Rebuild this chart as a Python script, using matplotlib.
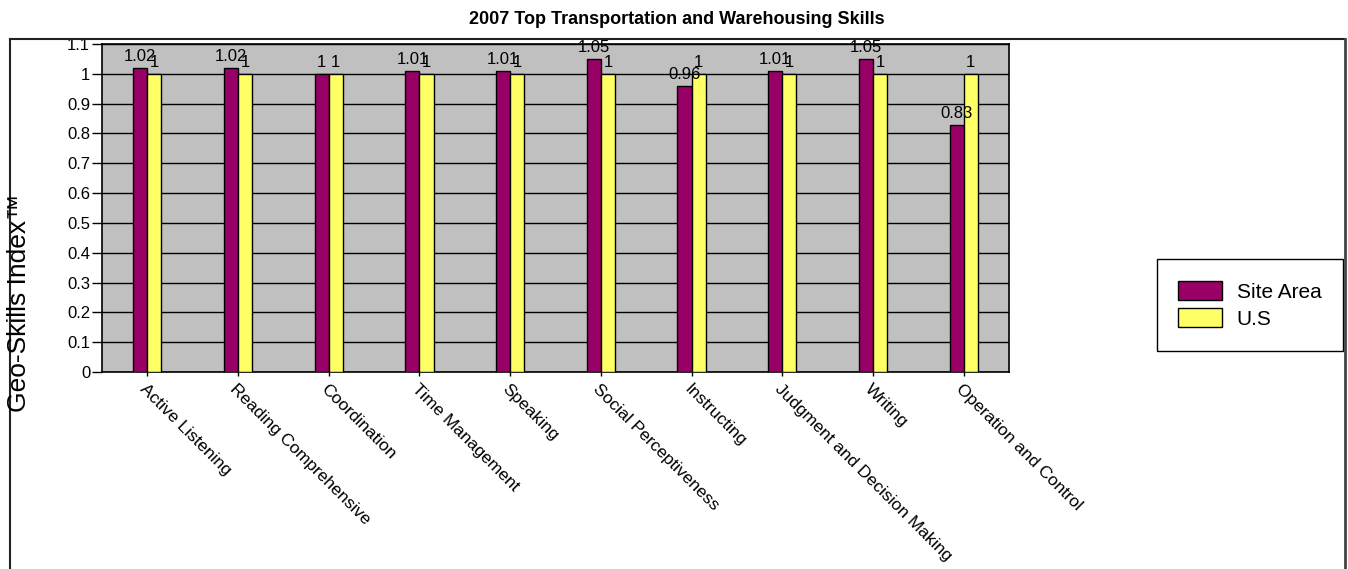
import numpy as np
import matplotlib.pyplot as plt
from matplotlib.lines import Line2D

plt.rcParams['font.family'] = ['Liberation Sans', 'DejaVu Sans']

# Chart data
skills = ["Active Listening", "Reading Comprehensive", "Coordination",
          "Time Management", "Speaking", "Social Perceptiveness",
          "Instructing", "Judgment and Decision Making", "Writing",
          "Operation and Control"]
site_area = [1.02, 1.02, 1, 1.01, 1.01, 1.05, 0.96, 1.01, 1.05, 0.83]
us = [1, 1, 1, 1, 1, 1, 1, 1, 1, 1]
y_ticks = [0, 0.1, 0.2, 0.3, 0.4, 0.5, 0.6, 0.7, 0.8, 0.9, 1, 1.1]

W, H = 1348, 569
fig = plt.figure(figsize=(W / 100, H / 100), dpi=100)
ax = fig.add_axes([102 / W, 1 - 372 / H, (1009 - 102) / W, (372 - 44) / H])

x = np.arange(len(skills))
bw = 0.155
b1 = ax.bar(x - bw / 2, site_area, bw, color="#990066", edgecolor="black",
            linewidth=1, label="Site Area", zorder=3)
b2 = ax.bar(x + bw / 2, us, bw, color="#FFFF66", edgecolor="black",
            linewidth=1, label="U.S", zorder=3)

# value labels above bars
for bars, vals in ((b1, site_area), (b2, us)):
    for rect, v in zip(bars, vals):
        ax.annotate(f"{v:g}", (rect.get_x() + rect.get_width() / 2, v),
                    xytext=(0, 5), textcoords="offset points",
                    ha="center", va="baseline", fontsize=12, zorder=4)

ax.set_facecolor("#C0C0C0")
ax.set_xlim(-0.5, len(skills) - 0.5)
ax.set_ylim(0, 1.1)
ax.set_yticks(y_ticks)
ax.set_yticklabels([f"{t:g}" for t in y_ticks], fontsize=12)
ax.set_xticks(x)
ax.set_xticklabels(skills, rotation=-45, ha="left", va="top",
                   rotation_mode="anchor", fontsize=12.5)
ax.tick_params(axis="y", length=7.5, width=1, color="black", pad=1)
ax.tick_params(axis="x", length=3, width=1, color="black", pad=4)
ax.yaxis.grid(True, color="black", linewidth=1)
ax.set_axisbelow(True)
for s in ax.spines.values():
    s.set_linewidth(1.2)
    s.set_color("black")

fig.text(677 / W, 1 - 20 / H, "2007 Top Transportation and Warehousing Skills",
         ha="center", va="center", fontsize=13, fontweight="bold")
fig.text(19 / W, 1 - 303 / H, "Geo-Skills Index\u2122", rotation=90,
         ha="center", va="center", fontsize=19)

# outer chart frame
fy = 1 - 39 / H
fig.add_artist(Line2D([10 / W, 1345 / W], [fy, fy], color="#222222", lw=1.5))
fig.add_artist(Line2D([10 / W, 10 / W], [0, fy], color="#222222", lw=1.5))
fig.add_artist(Line2D([1345 / W, 1345 / W], [0, fy], color="#444444", lw=2))

leg = ax.legend(handles=[b1, b2], loc="center",
                bbox_to_anchor=(1250 / W, 1 - 305 / H),
                bbox_transform=fig.transFigure, fontsize=15, frameon=True,
                fancybox=False, edgecolor="black", framealpha=1,
                handlelength=2.1, handleheight=1.05, handletextpad=0.7,
                borderpad=1.05, labelspacing=0.3)
leg.get_frame().set_linewidth(1)

fig.savefig("out.png", dpi=100)
